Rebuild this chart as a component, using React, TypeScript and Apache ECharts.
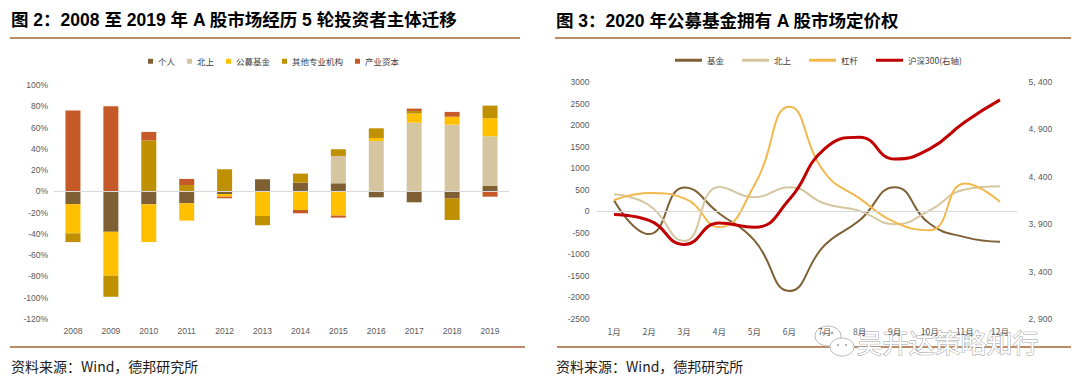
import React, { useEffect, useRef } from "react";
import * as echarts from "echarts";

const years = ["2008", "2009", "2010", "2011", "2012", "2013", "2014", "2015", "2016", "2017", "2018", "2019"];
const personal = [-12, -38, -12.2, -11.2, -2.5, 11.4, 8.2, 7.6, -5.6, -10.3, -6.8, 5.1];
const northbound = [0, 0, 0, 0, 0, 0, 0, 25.7, 47.4, 64.6, 62.7, 46.7];
const publicFunds = [-27.5, -41.3, -35.4, -16.3, -2.5, -23.1, -17.5, -22.8, 2.8, 8.5, 7.5, 16.9];
const otherInst = [-8.2, -19.8, 48, 6, 20.8, -8.8, 8.5, 6.3, 9.1, 2.5, -20.1, 11.9];
const industrial = [76, 80, 7.9, 5.7, -1.5, 0, -3.1, -1.9, 0, 2.2, 4.5, -5];

const months = ["1月", "2月", "3月", "4月", "5月", "6月", "7月", "8月", "9月", "10月", "11月", "12月"];
const fundFlow = [250, -530, 550, -50, -675, -1850, -790, -210, 560, -290, -600, -710];
const northFlow = [395, 140, -690, 565, 325, 560, 180, 10, -300, 20, 505, 580];
const leverageFlow = [255, 425, 300, -365, 605, 2425, 900, 300, -250, -440, 645, 220];
const hs300 = [4003, 3940, 3686, 3912, 3867, 4163, 4695, 4817, 4587, 4695, 4978, 5211];

const FONT = '"Liberation Sans", "Noto Sans CJK SC", sans-serif';
const CJK = '"Noto Sans CJK SC", "Liberation Sans", sans-serif';
const TICK = { color: "#595959", fontSize: 8.5, fontFamily: FONT };

const C_PERSONAL = "#7f6035";
const C_NORTH = "#d6c6a0";
const C_PUBLIC = "#ffc000";
const C_OTHER = "#bf9000";
const C_INDUSTRIAL = "#c55a28";
const C_LEVER = "#f2b84b";
const C_HS = "#c00000";
const C_RULE = "#bd8a66";

export default function App() {
  const ref = useRef<HTMLDivElement>(null);
  useEffect(() => {
    if (!ref.current) return;
    const chart = echarts.init(ref.current, null, { renderer: "svg" });
    const bar = (name: string, data: number[], color: string) => ({
      name,
      type: "bar",
      stack: "s",
      xAxisIndex: 0,
      yAxisIndex: 0,
      barWidth: 15,
      data,
      itemStyle: { color },
    });
    const line = (name: string, data: number[], color: string, width: number, yAxisIndex: number) => ({
      name,
      type: "line",
      xAxisIndex: 1,
      yAxisIndex,
      data,
      smooth: true,
      showSymbol: false,
      symbol: "none",
      lineStyle: { color, width },
      itemStyle: { color },
      z: yAxisIndex === 2 ? 5 : 3,
    });
    const option: any = {
      animation: false,
      backgroundColor: "#ffffff",
      legend: [
        {
          left: 143,
          top: 52,
          icon: "rect",
          itemWidth: 5,
          itemHeight: 5,
          itemGap: 12,
          data: ["个人", "北上", "公募基金", "其他专业机构", "产业资本"],
          textStyle: { color: "#404040", fontSize: 8.5, fontFamily: CJK },
        },
        {
          left: 670,
          top: 51,
          icon: "rect",
          itemWidth: 27,
          itemHeight: 3,
          itemGap: 18,
          data: ["基金", "北上", "杠杆", "沪深300(右轴)"],
          textStyle: { color: "#404040", fontSize: 8.5, fontFamily: CJK },
        },
      ],
      grid: [
        { left: 54, top: 85, width: 455, height: 234 },
        { left: 596.5, top: 82, width: 421, height: 237 },
      ],
      xAxis: [
        {
          type: "category",
          gridIndex: 0,
          data: years,
          axisLine: { show: false, onZero: false },
          axisTick: { show: false },
          axisLabel: { ...TICK, margin: 8 },
        },
        {
          type: "category",
          gridIndex: 1,
          data: months,
          axisLine: { show: false, onZero: false },
          axisTick: { show: false },
          axisLabel: { ...TICK, fontFamily: CJK, margin: 8 },
        },
      ],
      yAxis: [
        {
          type: "value",
          gridIndex: 0,
          min: -120,
          max: 100,
          interval: 20,
          axisLine: { show: false },
          axisTick: { show: false },
          splitLine: { show: false },
          axisLabel: { ...TICK, margin: 6, formatter: "{value}%" },
        },
        {
          type: "value",
          gridIndex: 1,
          min: -2500,
          max: 3000,
          interval: 500,
          axisLine: { show: false },
          axisTick: { show: false },
          splitLine: { show: false },
          axisLabel: { ...TICK, margin: 7, formatter: (v: number) => String(v) },
        },
        {
          type: "value",
          gridIndex: 1,
          position: "right",
          min: 2900,
          max: 5400,
          interval: 500,
          axisLine: { show: false },
          axisTick: { show: false },
          splitLine: { show: false },
          axisLabel: {
            ...TICK,
            margin: 11,
            formatter: (v: number) => {
              const s = String(v);
              return s.slice(0, s.length - 3) + ", " + s.slice(-3);
            },
          },
        },
      ],
      series: [
        {
          ...bar("个人", personal, C_PERSONAL),
          markLine: {
            silent: true,
            symbol: "none",
            label: { show: false },
            lineStyle: { color: "#d9d9d9", type: "solid", width: 1 },
            data: [{ yAxis: 0 }],
          },
        },
        bar("北上", northbound, C_NORTH),
        bar("公募基金", publicFunds, C_PUBLIC),
        bar("其他专业机构", otherInst, C_OTHER),
        bar("产业资本", industrial, C_INDUSTRIAL),
        {
          ...line("基金", fundFlow, C_PERSONAL, 2, 1),
          markLine: {
            silent: true,
            symbol: "none",
            label: { show: false },
            lineStyle: { color: "#d9d9d9", type: "solid", width: 1 },
            data: [{ yAxis: 0 }],
          },
        },
        line("北上", northFlow, C_NORTH, 2, 1),
        line("杠杆", leverageFlow, C_LEVER, 2, 1),
        line("沪深300(右轴)", hs300, C_HS, 3, 2),
      ],
      graphic: [
        {
          type: "text",
          left: 11,
          top: 11,
          style: {
            text: "图 2：2008 至 2019 年 A 股市场经历 5 轮投资者主体迁移",
            font: `bold 17.5px ${FONT}`,
            fill: "#000",
          },
        },
        {
          type: "text",
          left: 556,
          top: 12,
          style: {
            text: "图 3：2020 年公募基金拥有 A 股市场定价权",
            font: `bold 17.5px ${FONT}`,
            fill: "#000",
          },
        },
        { type: "rect", shape: { x: 10, y: 37, width: 510, height: 2 }, style: { fill: C_RULE } },
        { type: "rect", shape: { x: 555, y: 37, width: 516, height: 2 }, style: { fill: C_RULE } },
        { type: "rect", shape: { x: 10, y: 346, width: 515, height: 2 }, style: { fill: C_RULE } },
        { type: "rect", shape: { x: 557, y: 346, width: 514, height: 2 }, style: { fill: C_RULE } },
        {
          type: "text",
          left: 11,
          top: 359,
          style: { text: "资料来源：Wind，德邦研究所", font: `14px ${CJK}`, fill: "#1a1a1a" },
        },
        {
          type: "text",
          left: 556,
          top: 359,
          style: { text: "资料来源：Wind，德邦研究所", font: `14px ${CJK}`, fill: "#1a1a1a" },
        },
        {
          type: "group",
          z: 100,
          children: [
            { type: "ellipse", shape: { cx: 828, cy: 336, rx: 13, ry: 10 }, style: { fill: "#fff", stroke: "#b8b8b8", lineWidth: 1 } },
            { type: "ellipse", shape: { cx: 842, cy: 347, rx: 12, ry: 9 }, style: { fill: "#fff", stroke: "#b8b8b8", lineWidth: 1 } },
            { type: "circle", shape: { cx: 823, cy: 333, r: 1.3 }, style: { fill: "#aaa" } },
            { type: "circle", shape: { cx: 832, cy: 333, r: 1.3 }, style: { fill: "#aaa" } },
            { type: "circle", shape: { cx: 838, cy: 345, r: 1.1 }, style: { fill: "#aaa" } },
            { type: "circle", shape: { cx: 846, cy: 345, r: 1.1 }, style: { fill: "#aaa" } },
            {
              type: "text",
              left: 856,
              top: 328,
              style: {
                text: "吴开达策略知行",
                font: `26px ${CJK}`,
                fill: "#ffffff",
                stroke: "#a0a0a0",
                lineWidth: 1,
              },
            },
          ],
        },
      ],
    };
    chart.setOption(option);
    return () => chart.dispose();
  }, []);
  return (
    <div
      ref={ref}
      style={{ position: "fixed", left: 0, top: 0, width: 1080, height: 391, background: "#fff" }}
    />
  );
}
